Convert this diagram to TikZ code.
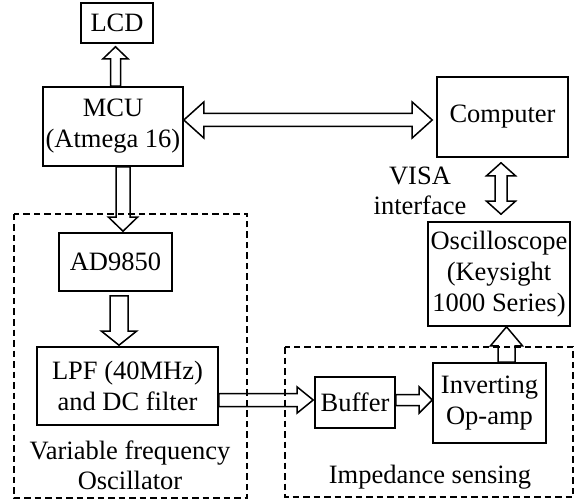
\documentclass[tikz,border=0pt]{standalone}
\usepackage{fontspec}
\setmainfont{Liberation Serif}
\usetikzlibrary{calc}

% hollow block arrow: shaft half width, head half width, head length, from, to
\newcommand\hollowarrow[5]{%
  \coordinate (ha) at (#4);
  \coordinate (hb) at (#5);
  \coordinate (hc) at ($(hb)!#3!(ha)$);
  \draw[arrowline] ($(ha)!#1!90:(hb)$) -- ($(hc)!#1!90:(hb)$) -- ($(hc)!#2!90:(hb)$) -- (hb)
    -- ($(hc)!#2!-90:(hb)$) -- ($(hc)!#1!-90:(hb)$) -- ($(ha)!#1!-90:(hb)$) -- cycle ;
}
% same, with a head at both ends
\newcommand\hollowdarrow[5]{%
  \coordinate (ha) at (#4);
  \coordinate (hb) at (#5);
  \coordinate (hc) at ($(ha)!#3!(hb)$);
  \coordinate (hd) at ($(hb)!#3!(ha)$);
  \draw[arrowline] (ha) -- ($(hc)!#2!90:(hb)$) -- ($(hc)!#1!90:(hb)$) -- ($(hd)!#1!90:(hb)$)
    -- ($(hd)!#2!90:(hb)$) -- (hb) -- ($(hd)!#2!-90:(hb)$) -- ($(hd)!#1!-90:(hb)$)
    -- ($(hc)!#1!-90:(hb)$) -- ($(hc)!#2!-90:(hb)$) -- cycle ;
}

\begin{document}
\begin{tikzpicture}[x=1pt, y=-1pt, line join=miter,
  box/.style={draw, line width=1.6pt, align=center, inner sep=0pt, font=\fontsize{26.5}{31}\selectfont},
  note/.style={align=center, inner sep=0pt, font=\fontsize{26.5}{30}\selectfont},
  group/.style={draw, dash pattern=on 6.5pt off 4pt, line width=1.5pt},
  arrowline/.style={line width=1.5pt}]

\useasboundingbox (0,0) rectangle (575,502) ;

\node[box, minimum width=72, minimum height=40] (LCD) at (117,23) {LCD} ;
\node[box, minimum width=140, minimum height=79] (MCU) at (113,126.5) {MCU\\(Atmega 16)} ;
\node[box, minimum width=131, minimum height=80] (PC) at (502.5,117) {Computer} ;
\node[box, minimum width=142, minimum height=104] (OSC) at (499,274) {Oscilloscope\\(Keysight\\1000 Series)} ;
\node[box, minimum width=113, minimum height=58] (DDS) at (115.5,262) {AD9850} ;
\node[box, minimum width=181, minimum height=78] (LPF) at (127.5,386) {LPF (40MHz)\\and DC filter} ;
\node[box, minimum width=80, minimum height=51] (BUF) at (355,402.5) {Buffer} ;
\node[box, minimum width=113, minimum height=80] (AMP) at (489.5,403) {Inverting\\Op-amp} ;

\node[note] (VISA) at (420,191) {VISA\\interface} ;
\node[note] (VFO) at (130,465) {Variable frequency\\Oscillator} ;
\node[note] (IMP) at (430,477) {Impedance sensing} ;

\draw[group] (14,214) rectangle (247,498) ;
\draw[group] (285,347) rectangle (573,497) ;

\coordinate (a1s) at ($(MCU.north)+(2.5,0)$) ;
\coordinate (a1e) at ($(a1s |- LCD.south)+(0,3)$) ;
\hollowarrow{5pt}{12.5pt}{12pt}{a1s}{a1e}

\coordinate (a2s) at ($(MCU.east)+(0,-6.5)$) ;
\coordinate (a2e) at ($(a2s -| PC.west)+(-4,0)$) ;
\hollowdarrow{6.5pt}{18pt}{20pt}{a2s}{a2e}

\coordinate (a3s) at ($(PC.south)+(-1.5,5)$) ;
\coordinate (a3e) at ($(a3s |- OSC.north)+(0,-7)$) ;
\hollowdarrow{6pt}{14.5pt}{13pt}{a3s}{a3e}

\coordinate (a4s) at ($(MCU.south)+(10,0)$) ;
\coordinate (a4e) at ($(a4s |- DDS.north)+(0,-1)$) ;
\hollowarrow{7pt}{14.5pt}{14pt}{a4s}{a4e}

\coordinate (a5s) at ($(DDS.south)+(3.5,4)$) ;
\coordinate (a5e) at ($(a5s |- LPF.north)+(0,-1)$) ;
\hollowarrow{9pt}{17.5pt}{14pt}{a5s}{a5e}

\coordinate (a6s) at ($(LPF.east)+(0,14)$) ;
\coordinate (a6e) at ($(a6s -| BUF.west)+(-1,0)$) ;
\hollowarrow{6.5pt}{13pt}{16pt}{a6s}{a6e}

\coordinate (a7s) at ($(BUF.east)+(0,-2.5)$) ;
\coordinate (a7e) at (a7s -| AMP.west) ;
\hollowarrow{5.5pt}{13pt}{13pt}{a7s}{a7e}

\coordinate (a8s) at ($(AMP.north)+(17,0)$) ;
\coordinate (a8e) at (a8s |- OSC.south) ;
\hollowarrow{8.5pt}{16pt}{19pt}{a8s}{a8e}

\end{tikzpicture}
\end{document}
